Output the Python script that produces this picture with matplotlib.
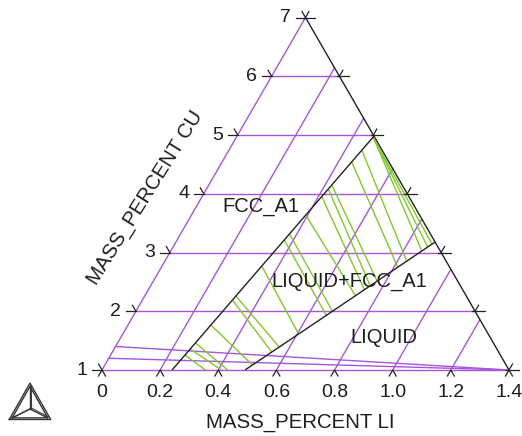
import numpy as np
import matplotlib
import matplotlib.pyplot as plt
from matplotlib.patches import Polygon

matplotlib.use("Agg")

# Composition window of the isothermal section (mass percent)
LI_MAX = 1.4
CU_MIN, CU_MAX = 1.0, 7.0

li_ticks = [0.0, 0.2, 0.4, 0.6, 0.8, 1.0, 1.2, 1.4]
li_labels = ["0", "0.2", "0.4", "0.6", "0.8", "1.0", "1.2", "1.4"]
cu_ticks = [1, 2, 3, 4, 5, 6, 7]

# extra grid rays running into the Li corner
fan_cu = [1.2, 1.4]

# FCC_A1 / LIQUID+FCC_A1 boundary
fcc_li = [0.241, 0.413, 0.471]
fcc_cu = [1.00, 3.98, 4.98]

# LIQUID+FCC_A1 / LIQUID boundary
liq_li = [0.492, 0.665, 0.892]
liq_cu = [1.00, 1.94, 3.18]

# tie-lines: FCC_A1 end and LIQUID end
tie_fcc_li = [0.256, 0.262, 0.268, 0.285, 0.310, 0.314, 0.343, 0.369, 0.375,
              0.393, 0.412, 0.419, 0.423, 0.446, 0.457, 0.470, 0.470, 0.470]
tie_fcc_cu = [1.255, 1.357, 1.460, 1.766, 2.191, 2.259, 2.770, 3.213, 3.315,
              3.638, 3.950, 4.081, 4.150, 4.540, 4.744, 4.966, 4.966, 4.966]
tie_liq_li = [0.448, 0.467, 0.472, 0.508, 0.548, 0.564, 0.605, 0.663, 0.676,
              0.724, 0.743, 0.755, 0.770, 0.813, 0.832, 0.864, 0.876, 0.885]
tie_liq_cu = [0.762, 0.864, 0.889, 1.085, 1.306, 1.391, 1.613, 1.931, 2.001,
              2.266, 2.368, 2.436, 2.513, 2.751, 2.852, 3.025, 3.093, 3.144]

# phase labels placed at a composition inside each field
phase_names = ["FCC_A1", "LIQUID+FCC_A1", "LIQUID"]
phase_li = [0.223, 0.677, 0.906]
phase_cu = [3.775, 2.498, 1.545]

PURPLE = "#a656dc"
GREEN = "#80c82c"
DARK = "#222222"
TXT = "#1e1e1e"
S3 = np.sqrt(3) / 2


def tern(li, cu):
    """Map (Li, Cu) mass percent onto the unit equilateral triangle."""
    li = np.asarray(li, dtype=float)
    cu = np.asarray(cu, dtype=float)
    v = (cu - CU_MIN) / (CU_MAX - CU_MIN)
    return li / LI_MAX + 0.5 * v, v * S3


def edge_li(cu):
    """Li content on the right-hand edge for a given Cu content."""
    return LI_MAX * (1 - (cu - CU_MIN) / (CU_MAX - CU_MIN))


def seg(ax, li, cu, **kw):
    x, y = tern(li, cu)
    return ax.plot(x, y, solid_capstyle="butt", **kw)[0]


plt.rcParams["font.family"] = ["Liberation Sans", "DejaVu Sans"]

fig = plt.figure(figsize=(5.22, 4.36), dpi=100)
ax = fig.add_axes([0, 0, 1, 1])
ax.set_xlim(-102 / 407, 420 / 407)
ax.set_ylim(-66 / 407, 370 / 407)
ax.axis("off")

tri = Polygon([(0, 0), (1, 0), (0.5, S3)], closed=True, transform=ax.transData,
              facecolor="none", edgecolor="none")
ax.add_patch(tri)

# grid: constant Cu (horizontal) and constant Li (parallel to the Cu axis)
for cu in cu_ticks[1:-1]:
    seg(ax, [0, edge_li(cu)], [cu, cu], color=PURPLE, lw=1.0)
for li in li_ticks[1:-1]:
    cu_top = CU_MIN + (CU_MAX - CU_MIN) * (1 - li / LI_MAX)
    seg(ax, [li, li], [CU_MIN, cu_top], color=PURPLE, lw=1.0)
for cu in fan_cu:
    seg(ax, [0, LI_MAX], [cu, CU_MIN], color=PURPLE, lw=1.0)

# axes of the triangle
seg(ax, [0, LI_MAX], [CU_MIN, CU_MIN], color=PURPLE, lw=1.0)
seg(ax, [0, 0], [CU_MIN, CU_MAX], color=PURPLE, lw=1.0)
seg(ax, [LI_MAX, 0], [CU_MIN, CU_MAX], color=DARK, lw=1.0)

# tie-lines, clipped to the plotted window
for i in range(len(tie_fcc_li)):
    ln = seg(ax, [tie_fcc_li[i], tie_liq_li[i]], [tie_fcc_cu[i], tie_liq_cu[i]],
             color=GREEN, lw=1.0)
    ln.set_clip_path(tri)

# phase boundaries
seg(ax, fcc_li, fcc_cu, color=DARK, lw=1.0)
seg(ax, liq_li, liq_cu, color=DARK, lw=1.0)

# tick marks
T = 0.017
tick_kw = dict(color=DARK, lw=0.9)
for li, lab in zip(li_ticks, li_labels):
    x, y = tern(li, CU_MIN)
    ax.plot([x - 0.5 * T, x, x + 0.5 * T], [y - S3 * T, y, y - S3 * T], **tick_kw)
    ax.text(x, y - 0.055, lab, ha="center", va="center", fontsize=14, color=TXT)
for cu in cu_ticks:
    x, y = tern(0, cu)
    ax.plot([x - 1.4 * T, x], [y, y], **tick_kw)
    ax.plot([x - 0.5 * T, x], [y + S3 * T, y], **tick_kw)
    ax.text(x - 0.036, y, str(cu), ha="right", va="center", fontsize=14, color=TXT)
    xr, yr = tern(edge_li(cu), cu)
    ax.plot([xr - 0.4 * T, xr + 1.4 * T], [yr, yr], **tick_kw)
    ax.plot([xr, xr + 0.5 * T], [yr, yr + S3 * T], **tick_kw)

# axis titles
ax.text(0.4865, -0.128, "MASS_PERCENT LI", ha="center", va="center",
        fontsize=14.7, color=TXT)
ax.text(0.1057, 0.4238, "MASS_PERCENT CU", ha="center", va="center",
        fontsize=14.7, color=TXT, rotation=58, rotation_mode="anchor")

for name, li, cu in zip(phase_names, phase_li, phase_cu):
    x, y = tern(li, cu)
    ax.text(x, y, name, ha="center", va="center", fontsize=14.5, color=TXT)

# software logo in the lower-left corner
lax = fig.add_axes([6 / 522, 14 / 436, 48 / 522, 42 / 436])
lax.set_xlim(-0.08, 1.08)
lax.set_ylim(-0.06, 0.94)
lax.axis("off")
c = (0.5, 0.25)
for k in (0.0, 0.07):
    pts = np.array([(k, k * 0.55), (1 - k, k * 0.55), (0.5, S3 - k * 1.1), (k, k * 0.55)])
    lax.plot(pts[:, 0], pts[:, 1], color="#333333", lw=1.0)
for vx, vy in [(0.08, 0.04), (0.92, 0.04), (0.5, S3 - 0.08)]:
    lax.plot([c[0], vx], [c[1], vy], color="#333333", lw=1.0)
    lax.plot([c[0] + 0.04, vx + 0.03], [c[1] + 0.02, vy + 0.02], color="#333333", lw=0.7)

fig.savefig("out.png", dpi=100)
